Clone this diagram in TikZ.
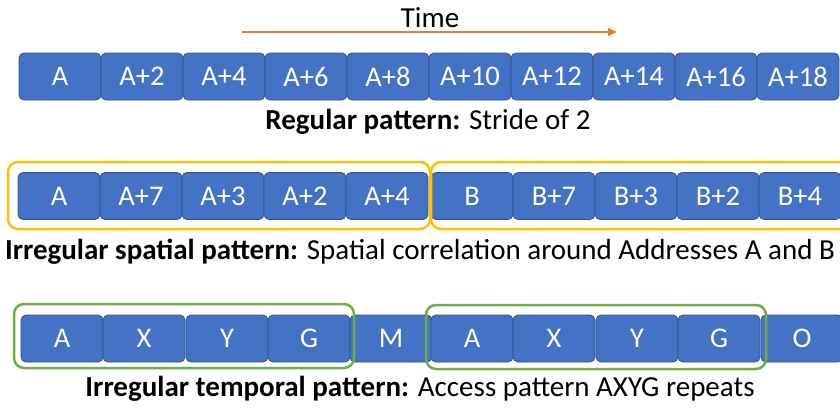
\documentclass[tikz,border=0pt]{standalone}
\usepackage{fontspec}
\setmainfont{Carlito}
\usetikzlibrary{arrows.meta}

\definecolor{cellblue}{HTML}{4472C4}
\definecolor{celledge}{HTML}{2F528F}
\definecolor{timeorange}{HTML}{ED7D31}
\definecolor{grpyellow}{HTML}{FFC000}
\definecolor{grpgreen}{HTML}{70AD47}

\begin{document}
\begin{tikzpicture}[x=1pt, y=-1pt,
  cell/.style={draw=celledge, fill=cellblue, rounded corners=5pt, line width=0.8pt,
    minimum width=82pt, minimum height=47pt, inner sep=0pt, text=white,
    font=\fontsize{28.5}{32}\selectfont},
  caption/.style={font=\fontsize{29}{33}\selectfont, inner sep=0pt},
  yellowgrp/.style={draw=grpyellow, line width=2.5pt, rounded corners=10pt},
  greengrp/.style={draw=grpgreen, line width=2.5pt, rounded corners=10pt}]
\useasboundingbox (0,0) rectangle (840,407);

% time axis
\node[caption] (time) at (430,18) {Time};
\coordinate (t0) at (242,32);
\coordinate (t1) at (617,32);
\draw[timeorange, line width=1.8pt, -{Triangle[length=9pt, width=8pt]}] (t0) -- (t1);

% regular pattern
\node[cell] (r1) at (60,76.5) {A};
\node[cell] (r2) at (142,76.5) {A+2};
\node[cell] (r3) at (224,76.5) {A+4};
\node[cell] (r4) at (306,76.5) {A+6};
\node[cell] (r5) at (388,76.5) {A+8};
\node[cell] (r6) at (470,76.5) {A+10};
\node[cell] (r7) at (552,76.5) {A+12};
\node[cell] (r8) at (634,76.5) {A+14};
\node[cell] (r9) at (716,76.5) {A+16};
\node[cell] (r10) at (798,76.5) {A+18};
\node[caption] (regular) at (428,122) {\textbf{Regular pattern:} Stride of 2};

% irregular spatial pattern
\node[cell] (s1) at (59,196) {A};
\node[cell] (s2) at (141,196) {A+7};
\node[cell] (s3) at (223,196) {A+3};
\node[cell] (s4) at (305,196) {A+2};
\node[cell] (s5) at (387,196) {A+4};
\node[cell] (s6) at (472,196) {B};
\node[cell] (s7) at (554,196) {B+7};
\node[cell] (s8) at (636,196) {B+3};
\node[cell] (s9) at (718,196) {B+2};
\node[cell] (s10) at (800,196) {B+4};
\draw[yellowgrp] (8,162) rectangle (430,229);
\draw[yellowgrp] (431,162) rectangle (860,229);
\node[caption] (spatial) at (420,252) {\textbf{Irregular spatial pattern:} Spatial correlation around Addresses A and B};

% irregular temporal pattern
\node[cell] (p1) at (62,338.5) {A};
\node[cell] (p2) at (144,338.5) {X};
\node[cell] (p3) at (227,338.5) {Y};
\node[cell] (p4) at (309,338.5) {G};
\node[cell] (p5) at (391,338.5) {M};
\node[cell] (p6) at (472,338.5) {A};
\node[cell] (p7) at (554,338.5) {X};
\node[cell] (p8) at (637,338.5) {Y};
\node[cell] (p9) at (719,338.5) {G};
\node[cell] (p10) at (802,338.5) {O};
\draw[greengrp] (14,304) rectangle (354,368);
\draw[greengrp] (426,305) rectangle (766,369);
\node[caption] (temporal) at (420,389) {\textbf{Irregular temporal pattern:} Access pattern AXYG repeats};
\end{tikzpicture}
\end{document}
